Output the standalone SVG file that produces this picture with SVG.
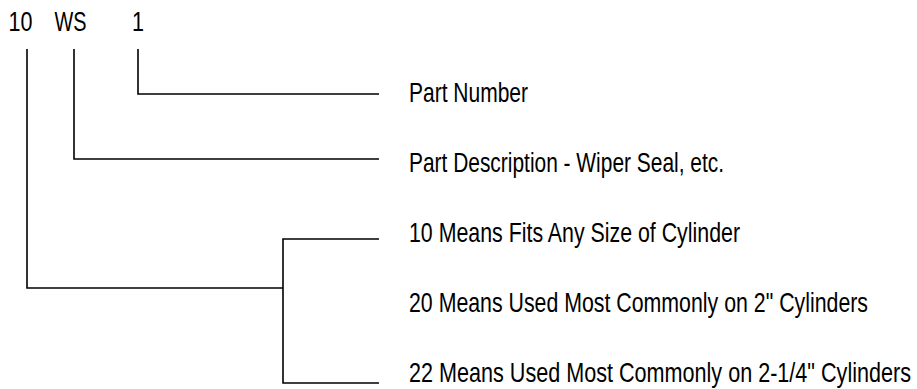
<svg xmlns="http://www.w3.org/2000/svg" width="917" height="389" viewBox="0 0 917 389">
<style>
text{font-family:"Liberation Sans Narrow","Liberation Sans",Arial,sans-serif;font-size:27.5px;fill:#000}
.c{fill:none;stroke:#000;stroke-width:1.6}
</style>
<rect width="917" height="389" fill="#fff"/>
<g id="code">
<text x="8.5" y="31" textLength="24" lengthAdjust="spacingAndGlyphs">10</text>
<text x="54.5" y="31" textLength="32" lengthAdjust="spacingAndGlyphs">WS</text>
<text x="132" y="31" textLength="12" lengthAdjust="spacingAndGlyphs">1</text>
</g>
<g id="connectors">
<path class="c" d="M138 49V94H379"/>
<path class="c" d="M74 49V159H379"/>
<path class="c" d="M27 49V288H283"/>
<path class="c" d="M379 239H283V383H379"/>
</g>
<g id="part-number"><text x="409" y="102" textLength="119" lengthAdjust="spacingAndGlyphs">Part Number</text></g>
<g id="part-description"><text x="409" y="172" textLength="315" lengthAdjust="spacingAndGlyphs">Part Description - Wiper Seal, etc.</text></g>
<g id="size-10"><text x="409" y="242" textLength="331" lengthAdjust="spacingAndGlyphs">10 Means Fits Any Size of Cylinder</text></g>
<g id="size-20"><text x="409" y="312" textLength="459" lengthAdjust="spacingAndGlyphs">20 Means Used Most Commonly on 2" Cylinders</text></g>
<g id="size-22"><text x="409" y="382" textLength="502" lengthAdjust="spacingAndGlyphs">22 Means Used Most Commonly on 2-1/4" Cylinders</text></g>
</svg>
